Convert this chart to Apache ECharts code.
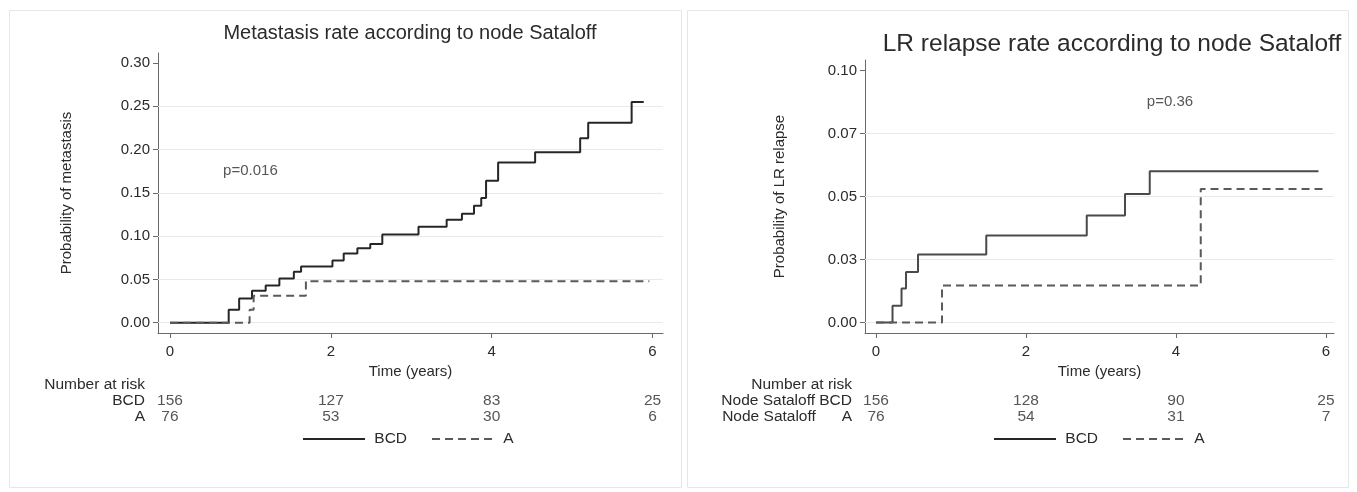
<!DOCTYPE html>
<html>
<head>
<meta charset="utf-8">
<script src="https://cdn.jsdelivr.net/npm/echarts@6/dist/echarts.min.js"></script>
<style>
  html, body { margin: 0; padding: 0; background: #ffffff; }
  #chart { width: 1357px; height: 492px; }
</style>
</head>
<body>
<div id="chart"></div>
<script>
// ---- Metastasis: cumulative probability by node Sataloff group (step curves) ----
const metBcdTime = [0, 0.73, 0.86, 1.02, 1.19, 1.36, 1.54, 1.63, 2.02, 2.16, 2.33, 2.49, 2.64, 3.09, 3.44, 3.63, 3.78, 3.87, 3.93, 4.08, 4.54, 5.10, 5.20, 5.74, 5.89];
const metBcdProb = [0, 0.015, 0.028, 0.037, 0.043, 0.051, 0.059, 0.065, 0.072, 0.080, 0.086, 0.091, 0.102, 0.111, 0.119, 0.126, 0.135, 0.144, 0.164, 0.185, 0.197, 0.213, 0.231, 0.255, 0.255];
const metATime = [0, 0.99, 1.04, 1.69, 5.96];
const metAProb = [0, 0.015, 0.031, 0.048, 0.048];

// ---- LR relapse: cumulative probability by node Sataloff group ----
const lrBcdTime = [0, 0.22, 0.34, 0.40, 0.56, 1.47, 2.81, 3.32, 3.65, 5.90];
const lrBcdProb = [0, 0.0066, 0.0135, 0.020, 0.027, 0.0345, 0.0425, 0.051, 0.060, 0.060];
const lrATime = [0, 0.88, 4.33, 5.96];
const lrAProb = [0, 0.0147, 0.053, 0.053];

// ---- Number at risk tables ----
const riskTimes = [0, 2, 4, 6];
const metRiskBcd = [156, 127, 83, 25];
const metRiskA = [76, 53, 30, 6];
const lrRiskBcd = [156, 128, 90, 25];
const lrRiskA = [76, 54, 31, 7];
const metRowLabels = ['Number at risk', 'BCD', 'A'];
const lrRowLabels = ['Number at risk', 'Node Sataloff BCD', 'Node Sataloff      A'];

// ---- Axis ticks and labels ----
const xTicks = [0, 2, 4, 6];
const metYTicks = [0, 0.05, 0.10, 0.15, 0.20, 0.25, 0.30];
const metYTickLabels = ['0.00', '0.05', '0.10', '0.15', '0.20', '0.25', '0.30'];
const metGridValues = [0, 0.05, 0.10, 0.15, 0.20, 0.25];
const lrYTicks = [0, 0.025, 0.05, 0.075, 0.10];
const lrYTickLabels = ['0.00', '0.03', '0.05', '0.07', '0.10'];
const lrGridValues = [0, 0.025, 0.05, 0.075];

const groupNames = ['BCD', 'A'];
const titles = ['Metastasis rate according to node Sataloff', 'LR relapse rate according to node Sataloff'];
const yTitles = ['Probability of metastasis', 'Probability of LR relapse'];
const pValues = ['p=0.016', 'p=0.36'];

const FONT = '"Liberation Sans", Arial, Helvetica, sans-serif';
const TXT = '#2b2b2b';
const AXIS = '#6a6a6a';

const zip = (xs, ys) => xs.map((x, i) => [x, ys[i]]);
const labelFor = (ticks, labels) => v => {
  const i = ticks.findIndex(t => Math.abs(t - v) < 1e-9);
  return i >= 0 ? labels[i] : '';
};

// geometry of the two panels
const panels = [
  { left: 158, top: 53, width: 505, height: 280, xMin: -0.149, xMax: 6.13, yMin: -0.0119, yMax: 0.3116, yGap: 84, riskTop: 377 },
  { left: 865, top: 60, width: 469, height: 273, xMin: -0.147, xMax: 6.107, yMin: -0.0042, yMax: 0.1042, yGap: 78, riskTop: 377 }
];

const grids = [];
const xAxes = [];
const yAxes = [];
panels.forEach((p, k) => {
  const yTicks = k === 0 ? metYTicks : lrYTicks;
  const yLabels = k === 0 ? metYTickLabels : lrYTickLabels;
  // main plot grid
  grids.push({ left: p.left, top: p.top, width: p.width, height: p.height, containLabel: false });
  xAxes.push({
    gridIndex: 2 * k, type: 'value', min: p.xMin, max: p.xMax,
    name: 'Time (years)', nameLocation: 'middle', nameGap: 29,
    nameTextStyle: { fontFamily: FONT, fontSize: 15, color: TXT },
    axisLine: { show: true, onZero: false, lineStyle: { color: AXIS, width: 1 } },
    axisTick: { show: true, length: 5, customValues: xTicks, lineStyle: { color: AXIS } },
    axisLabel: { customValues: xTicks, margin: 11, fontFamily: FONT, fontSize: 15, color: TXT },
    splitLine: { show: false }
  });
  yAxes.push({
    gridIndex: 2 * k, type: 'value', min: p.yMin, max: p.yMax,
    name: yTitles[k], nameLocation: 'middle', nameGap: p.yGap,
    nameTextStyle: { fontFamily: FONT, fontSize: 15, color: TXT },
    axisLine: { show: true, onZero: false, lineStyle: { color: AXIS, width: 1 } },
    axisTick: { show: true, length: 5, customValues: yTicks, lineStyle: { color: AXIS } },
    axisLabel: { customValues: yTicks, margin: 8, formatter: labelFor(yTicks, yLabels), fontFamily: FONT, fontSize: 15, color: TXT },
    splitLine: { show: false }
  });
  // number-at-risk grid, sharing the time scale of the plot above
  grids.push({ left: p.left, top: p.riskTop, width: p.width, height: 48, containLabel: false });
  xAxes.push({ gridIndex: 2 * k + 1, type: 'value', min: p.xMin, max: p.xMax, show: false });
  yAxes.push({
    gridIndex: 2 * k + 1, type: 'category', inverse: true,
    data: k === 0 ? metRowLabels : lrRowLabels,
    axisLine: { show: false }, axisTick: { show: false }, splitLine: { show: false },
    axisLabel: { interval: 0, margin: 13, fontFamily: FONT, fontSize: 15.5, color: TXT, align: 'right' }
  });
});

function stepSeries(name, data, xi, yi, color, type) {
  return {
    name, type: 'line', step: 'end', data, xAxisIndex: xi, yAxisIndex: yi,
    symbol: 'none', showSymbol: false, silent: true, animation: false,
    lineStyle: { color, width: 2, type }, itemStyle: { color },
    z: 5
  };
}

function gridLineSeries(values, xi, yi) {
  return {
    type: 'line', data: [], xAxisIndex: xi, yAxisIndex: yi, silent: true,
    markLine: {
      symbol: 'none', silent: true, animation: false, precision: 6,
      label: { show: false },
      lineStyle: { color: '#e9e9e9', width: 1, type: 'solid' },
      data: values.map(v => ({ yAxis: v }))
    },
    z: 1
  };
}

function riskSeries(rowName, counts, xi, yi) {
  return {
    type: 'scatter', xAxisIndex: xi, yAxisIndex: yi, silent: true, animation: false,
    symbolSize: 1, itemStyle: { color: 'rgba(0,0,0,0)' },
    data: riskTimes.map((t, i) => [t, rowName, counts[i]]),
    label: { show: true, position: 'inside', formatter: p => String(p.value[2]), fontFamily: FONT, fontSize: 15.5, color: TXT }
  };
}

function noteSeries(text, pos, xi, yi) {
  return {
    type: 'scatter', xAxisIndex: xi, yAxisIndex: yi, silent: true, animation: false,
    symbolSize: 1, itemStyle: { color: 'rgba(0,0,0,0)' },
    data: [pos],
    label: { show: true, position: 'inside', formatter: () => text, fontFamily: FONT, fontSize: 15, color: TXT }
  };
}

const series = [
  gridLineSeries(metGridValues, 0, 0),
  stepSeries(groupNames[0], zip(metBcdTime, metBcdProb), 0, 0, '#262626', 'solid'),
  stepSeries(groupNames[1], zip(metATime, metAProb), 0, 0, '#5a5a5a', [8, 5]),
  noteSeries(pValues[0], [1.0, 0.175], 0, 0),
  riskSeries(metRowLabels[1], metRiskBcd, 1, 1),
  riskSeries(metRowLabels[2], metRiskA, 1, 1),

  gridLineSeries(lrGridValues, 2, 2),
  stepSeries(groupNames[0], zip(lrBcdTime, lrBcdProb), 2, 2, '#4a4a4a', 'solid'),
  stepSeries(groupNames[1], zip(lrATime, lrAProb), 2, 2, '#5a5a5a', [8, 5]),
  noteSeries(pValues[1], [3.92, 0.0874], 2, 2),
  riskSeries(lrRowLabels[1], lrRiskBcd, 3, 3),
  riskSeries(lrRowLabels[2], lrRiskA, 3, 3)
];

const legendBase = {
  orient: 'horizontal', itemWidth: 62, itemHeight: 14, itemGap: 24,
  selectedMode: false,
  itemStyle: { opacity: 0, borderWidth: 0 },
  formatter: n => ' ' + n,
  textStyle: { fontFamily: FONT, fontSize: 15.5, color: TXT },
  data: groupNames
};

const option = {
  backgroundColor: '#ffffff',
  animation: false,
  grid: grids,
  xAxis: xAxes,
  yAxis: yAxes,
  legend: [
    Object.assign({}, legendBase, { left: 297, top: 426 }),
    Object.assign({}, legendBase, { left: 988, top: 426 })
  ],
  graphic: [
    { type: 'rect', shape: { x: 9.5, y: 10.5, width: 672, height: 477 }, style: { fill: 'none', stroke: '#e6e6e6', lineWidth: 1 }, silent: true, z: -10 },
    { type: 'rect', shape: { x: 687.5, y: 10.5, width: 661, height: 477 }, style: { fill: 'none', stroke: '#e6e6e6', lineWidth: 1 }, silent: true, z: -10 },
    { type: 'text', x: 410, y: 33, style: { text: titles[0], fontFamily: FONT, fontSize: 20, fill: TXT, textAlign: 'center', textVerticalAlign: 'middle' }, silent: true },
    { type: 'text', x: 1112, y: 44, style: { text: titles[1], fontFamily: FONT, fontSize: 24.5, fill: TXT, textAlign: 'center', textVerticalAlign: 'middle' }, silent: true }
  ],
  series
};

const chart = echarts.init(document.getElementById('chart'), null, { renderer: 'canvas' });
chart.setOption(option);
</script>
</body>
</html>
